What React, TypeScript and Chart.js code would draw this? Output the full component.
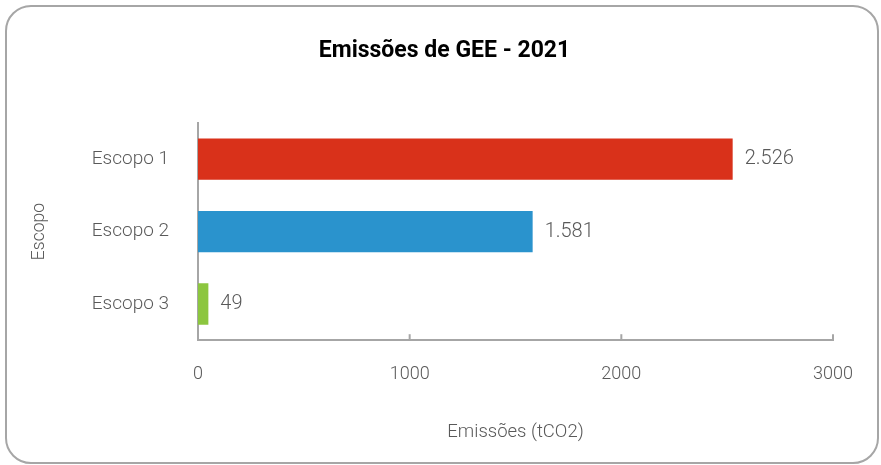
import React, { useEffect, useRef } from "react";
import { Chart, registerables } from "chart.js";

Chart.register(...registerables);

const categories = ["Escopo 1", "Escopo 2", "Escopo 3"];
const emissions = [2526, 1581, 49];
const barColors = ["#D9311A", "#2A93CD", "#8CC63F"];
const xTicks = [0, 1000, 2000, 3000];
const titleText = "Emissões de GEE - 2021";
const xTitle = "Emissões (tCO2)";
const yTitle = "Escopo";

const fmt = (v: number) => String(v).replace(/\B(?=(\d{3})+(?!\d))/g, ".");

const labelPlugin = {
  id: "valueLabels",
  afterDatasetsDraw(chart: any) {
    const ctx = chart.ctx;
    const meta = chart.getDatasetMeta(0);
    ctx.save();
    ctx.font = "300 20px Roboto";
    ctx.fillStyle = "#595959";
    ctx.textAlign = "left";
    ctx.textBaseline = "middle";
    meta.data.forEach((el: any, i: number) => {
      ctx.fillText(fmt(emissions[i]), el.x + 12, el.y);
    });
    ctx.restore();
  },
};

const titlePlugin = {
  id: "centeredTitle",
  afterDraw(chart: any) {
    const ctx = chart.ctx;
    ctx.save();
    ctx.font = "bold 23px Roboto";
    ctx.fillStyle = "#000000";
    ctx.textAlign = "center";
    ctx.textBaseline = "middle";
    ctx.fillText(titleText, chart.width / 2 + 4, 51);
    ctx.restore();
  },
};

const innerTicksPlugin = {
  id: "innerTicks",
  afterDraw(chart: any) {
    const x = chart.scales.x;
    const ctx = chart.ctx;
    ctx.save();
    ctx.strokeStyle = "#A6A6A6";
    ctx.lineWidth = 2;
    xTicks.slice(1).forEach((t) => {
      const px = x.getPixelForValue(t);
      ctx.beginPath();
      ctx.moveTo(px, x.top);
      ctx.lineTo(px, x.top - 6);
      ctx.stroke();
    });
    ctx.restore();
  },
};

export default function App() {
  const ref = useRef<HTMLCanvasElement>(null);
  useEffect(() => {
    if (!ref.current) return;
    const chart = new Chart(ref.current, {
      type: "bar",
      data: {
        labels: categories,
        datasets: [
          {
            data: emissions,
            backgroundColor: barColors,
            borderWidth: 0,
            categoryPercentage: 1,
            barPercentage: 0.57,
          },
        ],
      },
      options: {
        indexAxis: "y",
        animation: false,
        responsive: false,
        maintainAspectRatio: false,
        layout: { padding: { left: 20, right: 48, top: 123, bottom: 22 } },
        plugins: {
          legend: { display: false },
          tooltip: { enabled: false },
          title: { display: false },
        },
        scales: {
          x: {
            min: 0,
            max: 3000,
            afterBuildTicks: (s: any) => {
              s.ticks = xTicks.map((v) => ({ value: v }));
            },
            grid: { display: false, drawTicks: false },
            border: { display: true, color: "#A6A6A6", width: 2 },
            ticks: {
              padding: 23,
              color: "#595959",
              font: { family: "Roboto", size: 18, weight: "300" },
              callback: (v: any) => String(v),
            },
            title: {
              display: true,
              text: xTitle,
              color: "#595959",
              font: { family: "Roboto", size: 18.5, weight: "300" },
              padding: { top: 13, bottom: 0 },
            },
          },
          y: {
            afterFit: (s: any) => {
              s.width = 178;
            },
            grid: { display: false, drawTicks: false },
            border: { display: true, color: "#A6A6A6", width: 2 },
            ticks: {
              padding: 29,
              color: "#595959",
              font: { family: "Roboto", size: 19, weight: "300" },
            },
            title: {
              display: true,
              text: yTitle,
              color: "#595959",
              font: { family: "Roboto", size: 17.5, weight: "300" },
              padding: { top: 9, bottom: 0 },
            },
          },
        },
      },
      plugins: [labelPlugin, innerTicksPlugin, titlePlugin],
    } as any);
    return () => chart.destroy();
  }, []);

  return (
    <div style={{ position: "fixed", left: 0, top: 0, width: 881, height: 465, background: "#fff" }}>
      <canvas ref={ref} width={881} height={465} style={{ position: "absolute", left: 0, top: 0 }} />
      <div
        style={{
          position: "absolute",
          left: 5,
          top: 5,
          width: 874,
          height: 459,
          border: "2px solid #A6A6A6",
          borderRadius: 26,
          boxSizing: "border-box",
          pointerEvents: "none",
        }}
      />
    </div>
  );
}
